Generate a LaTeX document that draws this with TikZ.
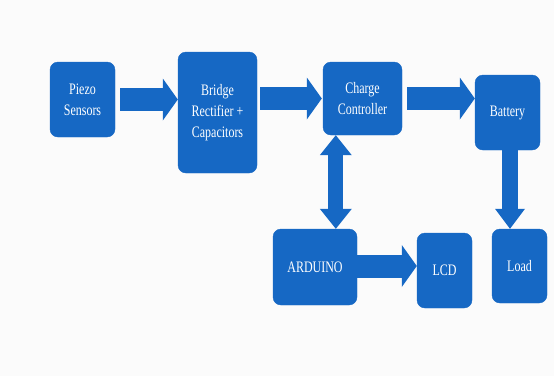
\documentclass[tikz,border=0pt]{standalone}
\usepackage{fontspec}
\setmainfont[FakeStretch=0.75]{Liberation Serif}
\usetikzlibrary{arrows.meta}
\definecolor{blockblue}{RGB}{22,104,196}
\definecolor{bgwhite}{RGB}{251,251,251}
\tikzset{
  box/.style={fill=blockblue, draw=blockblue, rounded corners=8pt, inner sep=0pt,
    text=white, align=center, font=\fontsize{16}{21}\selectfont},
  fatarrow/.style={draw=blockblue, line width=23pt,
    -{Triangle[length=15pt 0 0, width=42pt 0 0, line width=0pt 0 0]}},
  dblarrow/.style={draw=blockblue, line width=#1,
    {Triangle[length=20pt 0 0, width=32pt 0 0, line width=0pt 0 0]}-{Triangle[length=20pt 0 0, width=32pt 0 0, line width=0pt 0 0]}},
  downarrow/.style={draw=blockblue, line width=16pt,
    -{Triangle[length=20pt 0 0, width=30pt 0 0, line width=0pt 0 0]}}
}
\begin{document}
\begin{tikzpicture}[x=1pt,y=-1pt]
  \fill[bgwhite] (0,0) rectangle (554,376);
  \useasboundingbox (0,0) rectangle (554,376);

  \node[box, minimum width=65pt, minimum height=75pt] (piezo) at (82.5,99.5) {Piezo\\Sensors};
  \node[box, minimum width=79pt, minimum height=121pt] (bridge) at (217.5,112.5) {Bridge\\Rectifier +\\Capacitors};
  \node[box, minimum width=79pt, minimum height=73pt] (cc) at (362.5,98.5) {Charge\\Controller};
  \node[box, minimum width=65pt, minimum height=75pt] (bat) at (507.5,112.5) {Battery};
  \node[box, minimum width=84pt, minimum height=76pt] (ard) at (315,267) {ARDUINO};
  \node[box, minimum width=55pt, minimum height=75pt] (lcd) at (444.5,270.5) {LCD};
  \node[box, minimum width=55pt, minimum height=74pt] (load) at (519.5,266) {Load};

  \coordinate (ardout) at ([yshift=1pt]ard.east);
  \coordinate (dbltop) at ([xshift=13pt]cc.south west);
  \coordinate (battop) at ([xshift=2.5pt]bat.south);

  \draw[fatarrow] ([xshift=5pt]piezo.east) -- (bridge.west |- piezo.east);
  \draw[fatarrow] ([xshift=3pt]bridge.east |- cc.west) -- ([xshift=-1pt]cc.west);
  \draw[fatarrow] ([xshift=5pt]cc.east) -- (bat.west |- cc.east);
  \draw[fatarrow] (ardout) -- (lcd.west |- ardout);
  \draw[dblarrow=15pt] (dbltop) -- (dbltop |- ard.north);
  \draw[downarrow] (battop) -- (battop |- load.north);
\end{tikzpicture}
\end{document}
